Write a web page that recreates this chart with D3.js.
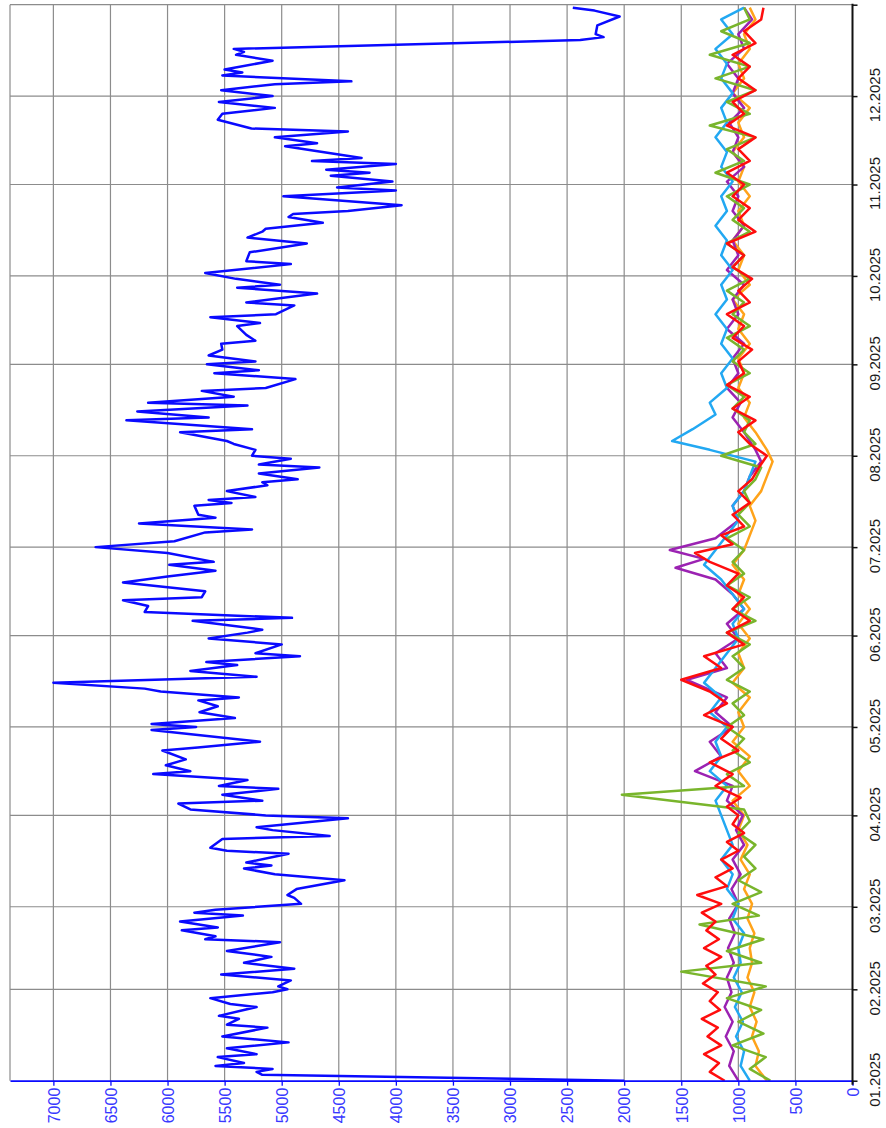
<!DOCTYPE html>
<html>
<head>
<meta charset="utf-8">
<script src="https://cdn.jsdelivr.net/npm/d3@7"></script>
<style>
  html, body { margin: 0; padding: 0; background: #fff; }
  #chart { width: 886px; height: 1128px; }
</style>
</head>
<body>
<div id="chart"></div>
<script>
// values: [day of year (0 = 01.01.2025), value]
const valueTicks = [0, 500, 1000, 1500, 2000, 2500, 3000, 3500, 4000, 4500, 5000, 5500, 6000, 6500, 7000];
const monthLabels = ["01.2025", "02.2025", "03.2025", "04.2025", "05.2025", "06.2025",
  "07.2025", "08.2025", "09.2025", "10.2025", "11.2025", "12.2025"];

const blueSeries = [
  [0, 2000], [2, 5170], [3, 5220], [4, 5080], [5, 5580], [6, 5330], [8, 5560], [9, 5220], [11, 5480],
  [13, 4940], [15, 5520], [18, 5125], [19, 5480], [21, 5375], [22, 5550], [25, 5220], [26, 5450],
  [28, 5625], [30, 5080], [31, 4950], [32, 5030], [34, 4920], [36, 5530], [38, 4890], [40, 5330],
  [42, 5090], [44, 5480], [47, 5015], [48, 5670], [49, 5580], [51, 5875], [52, 5560], [54, 5890],
  [56, 5340], [57, 5765], [58, 5580], [60, 4830], [62, 4890], [63, 4950], [65, 4870], [68, 4450],
  [70, 5060], [72, 5330], [73, 5090], [74, 5310], [77, 4940], [78, 5480], [79, 5625], [82, 5520],
  [83, 4580], [85, 5080], [86, 5220], [89, 4420], [90, 5140], [92, 5800], [94, 5905], [95, 5170],
  [97, 5520], [99, 5030], [100, 5550], [102, 5300], [104, 6125], [105, 5800], [107, 6015], [109, 5840],
  [112, 6045], [113, 5735], [115, 5190], [119, 6140], [120, 5750], [121, 6140], [123, 5410], [125, 5720],
  [127, 5560], [129, 5730], [130, 5375], [132, 6060], [133, 6200], [135, 7000], [137, 5220], [139, 5800],
  [141, 5390], [142, 5660], [144, 4840], [145, 5230], [148, 5000], [150, 5640], [152, 5300], [153, 5170],
  [156, 5780], [157, 4910], [159, 6200], [161, 6170], [163, 6390], [164, 5700], [166, 5670], [169, 6390],
  [171, 6000], [173, 5580], [175, 5985], [176, 5595], [179, 6000], [181, 6630], [183, 5940], [186, 5670],
  [187, 5260], [189, 6250], [191, 5580], [192, 5730], [195, 5765], [196, 5440], [197, 5640], [198, 5230],
  [200, 5480], [202, 5125], [203, 5170], [204, 4860], [206, 5200], [208, 4670], [209, 5200], [211, 4920],
  [212, 5260], [214, 5230], [216, 5420], [217, 5480], [220, 5890], [221, 5260], [224, 6360], [225, 5640],
  [227, 6265], [229, 5300], [230, 6170], [232, 5420], [234, 5700], [235, 5140], [238, 4880], [240, 5590],
  [241, 5200], [243, 5655], [244, 5230], [246, 5640], [248, 5520], [250, 5530], [251, 5230], [253, 5310],
  [256, 5390], [257, 5190], [259, 5625], [260, 5050], [263, 4890], [264, 5310], [267, 4690], [269, 5390],
  [270, 5015], [272, 5400], [274, 5670], [277, 4920], [278, 5310], [281, 5280], [284, 4780], [286, 5300],
  [288, 5170], [289, 5140], [291, 4640], [293, 4940], [294, 4900], [295, 4420], [297, 3950], [300, 4985],
  [302, 4000], [303, 4515], [305, 4030], [307, 4570], [308, 4230], [309, 4610], [311, 4000], [312, 4735],
  [313, 4300], [317, 4970], [318, 4690], [320, 5060], [322, 4420], [323, 5265], [326, 5560], [328, 5520],
  [330, 5060], [332, 5550], [334, 5080], [336, 5530], [338, 5060], [339, 4390], [341, 5520], [342, 5345],
  [343, 5500], [346, 5080], [348, 5400], [349, 5330], [350, 5420], [353, 2385], [354, 2180], [355, 2250],
  [358, 2235], [361, 2040], [363, 2260], [364, 2450]
];

const redSeries = [
  [0, 1120], [3, 1250], [6, 1170], [9, 1300], [12, 1150], [15, 1270], [18, 1180], [21, 1320], [24, 1160],
  [27, 1250], [30, 1180], [33, 1310], [36, 1200], [39, 1280], [42, 1150], [45, 1300], [48, 1170], [51, 1280],
  [54, 1200], [57, 1320], [60, 1150], [63, 1360], [66, 1100], [69, 1200], [72, 1050], [75, 1150], [78, 1000],
  [81, 1100], [84, 950], [87, 1050], [90, 1000], [93, 1100], [96, 980], [100, 1200], [104, 1050], [108, 1250],
  [112, 1000], [116, 1150], [120, 1050], [124, 1300], [128, 1100], [132, 1250], [136, 1500], [140, 1150],
  [144, 1300], [148, 950], [152, 1100], [156, 900], [160, 1050], [164, 950], [168, 1100], [172, 1000],
  [176, 1250], [179, 1380], [182, 1050], [185, 1150], [188, 950], [192, 1050], [196, 900], [200, 1000],
  [204, 880], [208, 820], [212, 750], [216, 900], [220, 1000], [224, 850], [228, 1050], [232, 900],
  [236, 1100], [240, 950], [244, 1000], [248, 880], [252, 1050], [256, 950], [260, 1100], [264, 900],
  [268, 1000], [272, 880], [276, 1050], [280, 950], [284, 1100], [288, 850], [292, 1000], [296, 900],
  [300, 1050], [304, 950], [308, 1100], [312, 900], [316, 1000], [320, 850], [324, 1100], [328, 950],
  [332, 1050], [336, 850], [340, 1000], [344, 900], [348, 1050], [352, 850], [356, 950], [360, 800], [364, 780]
];

const purpleSeries = [
  [0, 1000], [5, 1080], [10, 1040], [15, 1110], [20, 1050], [25, 1120], [30, 1060], [35, 1100], [40, 1040],
  [45, 1090], [50, 1030], [55, 1080], [60, 1000], [65, 1060], [70, 980], [75, 1050], [80, 950], [85, 1020],
  [90, 960], [95, 1100], [100, 1050], [105, 1380], [110, 1150], [115, 1250], [120, 1050], [125, 1200],
  [130, 1100], [136, 1450], [140, 1100], [145, 1200], [150, 1000], [155, 1100], [160, 950], [165, 1050],
  [170, 1200], [174, 1550], [177, 1300], [180, 1600], [184, 1200], [190, 1000], [195, 1050], [200, 950],
  [205, 900], [210, 800], [214, 850], [220, 950], [225, 1050], [230, 980], [235, 1100], [240, 1000],
  [245, 1050], [250, 950], [255, 1100], [260, 1000], [265, 1050], [270, 950], [275, 1100], [280, 1000],
  [285, 1050], [290, 950], [295, 1050], [300, 1000], [305, 1100], [310, 950], [315, 1050], [320, 1000],
  [325, 1080], [330, 950], [335, 1050], [340, 1000], [345, 1100], [350, 950], [355, 1000], [360, 880], [364, 950]
];

const cyanSeries = [
  [0, 900], [5, 980], [10, 950], [15, 1020], [20, 960], [25, 1030], [30, 970], [35, 1040], [40, 980],
  [45, 1000], [50, 950], [55, 1050], [60, 1000], [65, 1100], [70, 1050], [75, 1150], [80, 1050], [85, 1100],
  [90, 1150], [95, 1200], [100, 1100], [105, 1250], [110, 1150], [115, 1200], [120, 1100], [125, 1250],
  [130, 1150], [135, 1300], [140, 1200], [145, 1100], [150, 1000], [155, 1050], [160, 950], [165, 1050],
  [170, 1150], [175, 1300], [180, 1200], [185, 1100], [190, 1000], [195, 1050], [200, 950], [205, 900],
  [210, 850], [214, 1250], [217, 1580], [221, 1400], [226, 1200], [230, 1250], [235, 1100], [240, 1150],
  [245, 1050], [250, 1150], [255, 1100], [260, 1200], [265, 1100], [270, 1150], [275, 1050], [280, 1150],
  [285, 1100], [290, 1200], [295, 1100], [300, 1150], [305, 1050], [310, 1150], [315, 1100], [320, 1200],
  [325, 1100], [330, 1150], [335, 1050], [340, 1150], [345, 1100], [350, 1200], [355, 1050], [360, 1150], [364, 950]
];

const greenSeries = [
  [0, 720], [4, 900], [8, 760], [12, 1050], [16, 780], [20, 1000], [24, 800], [28, 1100], [32, 760],
  [37, 1500], [40, 800], [44, 1100], [48, 780], [53, 1340], [56, 820], [60, 1050], [64, 800], [68, 1000],
  [72, 850], [76, 950], [80, 850], [84, 1000], [88, 900], [92, 950], [97, 2020], [100, 950], [104, 1100],
  [108, 900], [112, 1050], [116, 950], [120, 1100], [124, 950], [128, 1050], [132, 900], [136, 1100],
  [140, 950], [144, 1050], [148, 900], [152, 1100], [156, 850], [160, 1050], [164, 900], [168, 1100],
  [172, 950], [176, 1050], [180, 950], [184, 1100], [188, 900], [192, 1000], [196, 900], [200, 950],
  [204, 850], [208, 800], [212, 1150], [216, 850], [220, 950], [224, 900], [228, 1050], [232, 950],
  [236, 1100], [240, 900], [244, 1050], [248, 950], [252, 1100], [256, 900], [260, 1050], [264, 950],
  [268, 1100], [272, 900], [276, 1050], [280, 950], [284, 1100], [288, 900], [292, 1050], [296, 950],
  [300, 1100], [304, 900], [308, 1200], [312, 950], [316, 1100], [320, 850], [324, 1250], [328, 900],
  [332, 1100], [336, 850], [340, 1200], [344, 900], [348, 1250], [352, 900], [356, 1150], [360, 900], [364, 950]
];

const orangeSeries = [
  [0, 750], [5, 850], [10, 820], [15, 880], [20, 840], [25, 900], [30, 860], [35, 920], [40, 880],
  [45, 900], [50, 860], [55, 920], [60, 880], [65, 950], [70, 900], [75, 980], [80, 920], [85, 1000],
  [90, 950], [95, 1050], [100, 900], [105, 1000], [110, 900], [115, 1050], [120, 950], [125, 1000],
  [130, 900], [135, 1050], [140, 950], [145, 1000], [150, 900], [155, 1000], [160, 900], [165, 1000],
  [170, 950], [175, 1050], [180, 950], [185, 900], [190, 850], [195, 900], [200, 800], [205, 750],
  [210, 700], [214, 750], [220, 850], [225, 950], [230, 900], [235, 1000], [240, 950], [245, 1000],
  [250, 900], [255, 1000], [260, 950], [265, 1050], [270, 900], [275, 1000], [280, 950], [285, 1050],
  [290, 950], [295, 1000], [300, 900], [305, 1000], [310, 950], [315, 1050], [320, 950], [325, 1000],
  [330, 900], [335, 1050], [340, 950], [345, 1000], [350, 900], [355, 950], [360, 850], [364, 900]
];

const seriesList = [
  { data: orangeSeries, color: "#ffa31a" },
  { data: purpleSeries, color: "#9b22b2" },
  { data: cyanSeries, color: "#22a8f2" },
  { data: greenSeries, color: "#79b52c" },
  { data: redSeries, color: "#ff0d0d" },
  { data: blueSeries, color: "#0a0aff" }
];

document.addEventListener("DOMContentLoaded", () => {
  const width = 886;
  const height = 1128;
  const left = 10, right = 852.5, top = 4.7, bottom = 1080.7;

  const svg = d3.select("#chart")
    .append("svg")
    .attr("width", width)
    .attr("height", height)
    .style("font-family", "'Liberation Sans', Arial, sans-serif");

  const start = new Date(2025, 0, 1);
  const end = new Date(2026, 0, 1);
  const toDate = (day) => d3.timeDay.offset(start, day);

  const y = d3.scaleTime().domain([start, end]).range([bottom, top]);
  const x = d3.scaleLinear().domain([0, 7380]).range([right, left]);
  const months = d3.timeMonth.range(start, d3.timeDay.offset(end, 1));

  // grid
  const grid = svg.append("g").attr("stroke", "#8c8c8c").attr("stroke-width", 1.2);
  grid.selectAll("line.v")
    .data(valueTicks.filter((v) => v > 0).concat([7380]))
    .join("line")
    .attr("x1", (v) => x(v)).attr("x2", (v) => x(v))
    .attr("y1", top).attr("y2", bottom);
  grid.selectAll("line.h")
    .data(months.slice(1))
    .join("line")
    .attr("x1", left).attr("x2", right)
    .attr("y1", (d) => y(d)).attr("y2", (d) => y(d));

  // series
  const line = d3.line()
    .x((d) => x(d[1]))
    .y((d) => y(toDate(d[0])));

  svg.append("g")
    .selectAll("path")
    .data(seriesList)
    .join("path")
    .attr("fill", "none")
    .attr("stroke", (s) => s.color)
    .attr("stroke-width", 2.5)
    .attr("stroke-linejoin", "round")
    .attr("d", (s) => line(s.data));

  // value axis (bottom, blue, rotated labels)
  const valueAxis = svg.append("g")
    .attr("transform", `translate(0,${bottom})`)
    .call(d3.axisBottom(x).tickValues(valueTicks).tickFormat(d3.format("d"))
      .tickSize(5).tickSizeOuter(0));
  valueAxis.select(".domain").attr("stroke", "#0a0aff").attr("stroke-width", 1.8);
  valueAxis.selectAll(".tick line").attr("stroke", "#0a0aff").attr("stroke-width", 1.3);
  valueAxis.selectAll(".tick text")
    .attr("fill", "#3838ff")
    .style("font-size", "16px")
    .attr("transform", "rotate(-90)")
    .attr("x", -7)
    .attr("y", 0)
    .attr("dy", "0.36em")
    .style("text-anchor", "end");

  // date axis (right, black)
  const dateAxis = svg.append("g")
    .attr("transform", `translate(${right},0)`)
    .call(d3.axisRight(y).tickValues(months).tickSize(5).tickSizeOuter(0)
      .tickFormat((d) => d < end ? monthLabels[d.getMonth()] : ""));
  dateAxis.select(".domain").remove();
  dateAxis.append("line")
    .attr("x1", 0).attr("x2", 0)
    .attr("y1", top - 1).attr("y2", bottom + 4)
    .attr("stroke", "#111").attr("stroke-width", 2);
  dateAxis.selectAll(".tick line").attr("stroke", "#111").attr("stroke-width", 1.5);
  dateAxis.selectAll(".tick text")
    .attr("fill", "#1a1a1a")
    .style("font-size", "15px")
    .attr("transform", "rotate(-90)")
    .attr("x", 1.5)
    .attr("y", 27)
    .attr("dy", 0)
    .style("text-anchor", "middle");
});
</script>
</body>
</html>
